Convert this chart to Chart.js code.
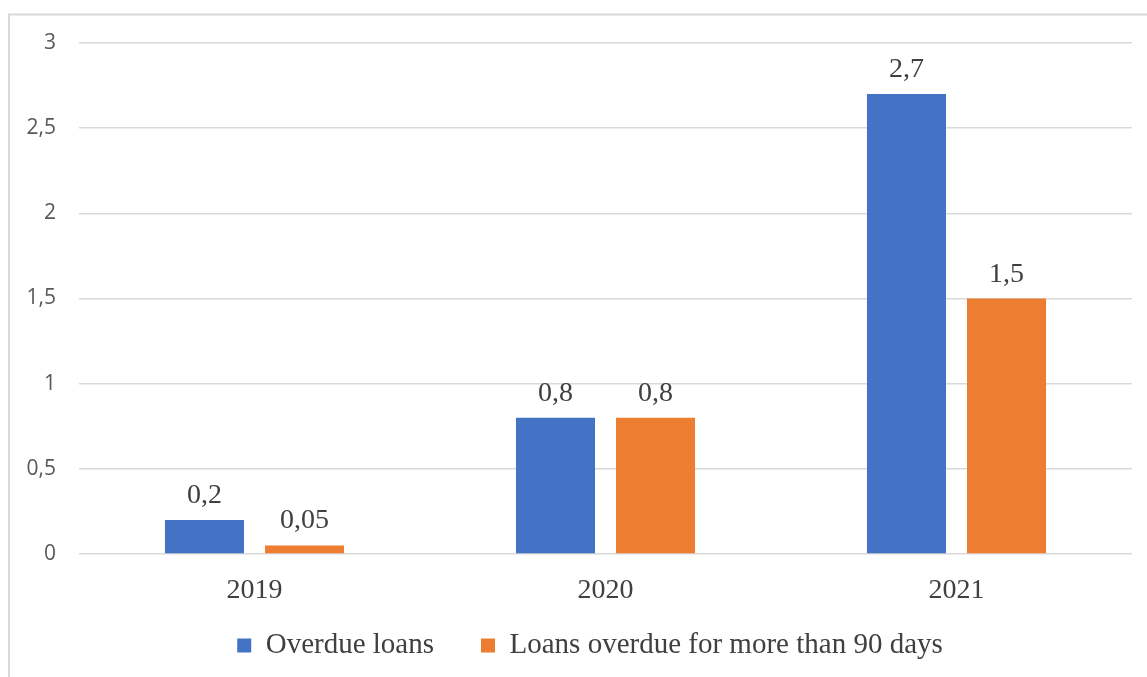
<!DOCTYPE html>
<html>
<head>
<meta charset="utf-8">
<script src="https://cdn.jsdelivr.net/npm/chart.js@4"></script>
<style>
  html, body { margin: 0; padding: 0; background: #fff; }
  #wrap { position: absolute; left: 0; top: 0; width: 1147px; height: 677px; }
</style>
</head>
<body>
<div id="wrap"><canvas id="c" width="1147" height="677"></canvas></div>
<script>
const categories = ['2019', '2020', '2021'];
const seriesNames = ['Overdue loans', 'Loans overdue for more than 90 days'];
const overdueLoans = [0.2, 0.8, 2.7];
const overdue90 = [0.05, 0.8, 1.5];
const yTicks = [0, 0.5, 1, 1.5, 2, 2.5, 3];

const fmt = v => String(v).replace('.', ',');

const borderPlugin = {
  id: 'outerBorder',
  beforeDraw(chart) {
    const ctx = chart.ctx;
    ctx.save();
    ctx.fillStyle = '#fff';
    ctx.fillRect(0, 0, chart.width, chart.height);
    ctx.strokeStyle = '#d9d9d9';
    ctx.lineWidth = 2;
    ctx.strokeRect(9, 14.5, 1300, 800);
    ctx.restore();
  }
};

const legendShift = {
  id: 'legendShift',
  afterLayout(chart) {
    const l = chart.legend;
    if (!l) return;
    const dx = 14, dy = -25;
    l.left += dx; l.right += dx;
    l.top += dy;
    l.bottom = chart.height;
  }
};

const labelPlugin = {
  id: 'valueLabels',
  afterDatasetsDraw(chart) {
    const ctx = chart.ctx;
    ctx.save();
    ctx.font = '28px "Liberation Serif"';
    ctx.fillStyle = '#404040';
    ctx.textAlign = 'center';
    ctx.textBaseline = 'alphabetic';
    chart.data.datasets.forEach((ds, i) => {
      const meta = chart.getDatasetMeta(i);
      meta.data.forEach((bar, j) => {
        ctx.fillText(fmt(ds.data[j]), bar.x, bar.y - 17);
      });
    });
    ctx.restore();
  }
};

new Chart(document.getElementById('c'), {
  type: 'bar',
  data: {
    labels: categories,
    datasets: [
      { label: seriesNames[0], data: overdueLoans, backgroundColor: '#4472C4' },
      { label: seriesNames[1], data: overdue90, backgroundColor: '#ED7D31' }
    ]
  },
  options: {
    responsive: false,
    animation: false,
    devicePixelRatio: 1,
    categoryPercentage: 0.57,
    barPercentage: 0.79,
    layout: { padding: { left: 20, right: 15, top: 43, bottom: 0 } },
    plugins: {
      tooltip: { enabled: false },
      legend: {
        position: 'bottom',
        maxHeight: 68,
        labels: {
          font: { family: '"Liberation Serif"', size: 29 },
          color: '#404040',
          boxWidth: 14,
          boxHeight: 14,
          padding: 47
        }
      }
    },
    scales: {
      x: {
        grid: { display: false, drawTicks: false },
        border: { display: false },
        ticks: {
          font: { family: '"Liberation Serif"', size: 28 },
          color: '#404040',
          padding: 20
        },
        afterFit(s) { s.height = 55; }
      },
      y: {
        min: 0,
        max: 3,
        afterBuildTicks(s) { s.ticks = yTicks.map(v => ({ value: v })); },
        grid: { color: '#d9d9d9', lineWidth: 1.5, drawTicks: false },
        border: { display: false },
        ticks: {
          font: { family: '"Open Sans"', size: 21 },
          color: '#595959',
          padding: 23,
          callback: v => fmt(v)
        },
        afterFit(s) { s.width = 59; }
      }
    }
  },
  plugins: [borderPlugin, legendShift, labelPlugin]
});
</script>
</body>
</html>
